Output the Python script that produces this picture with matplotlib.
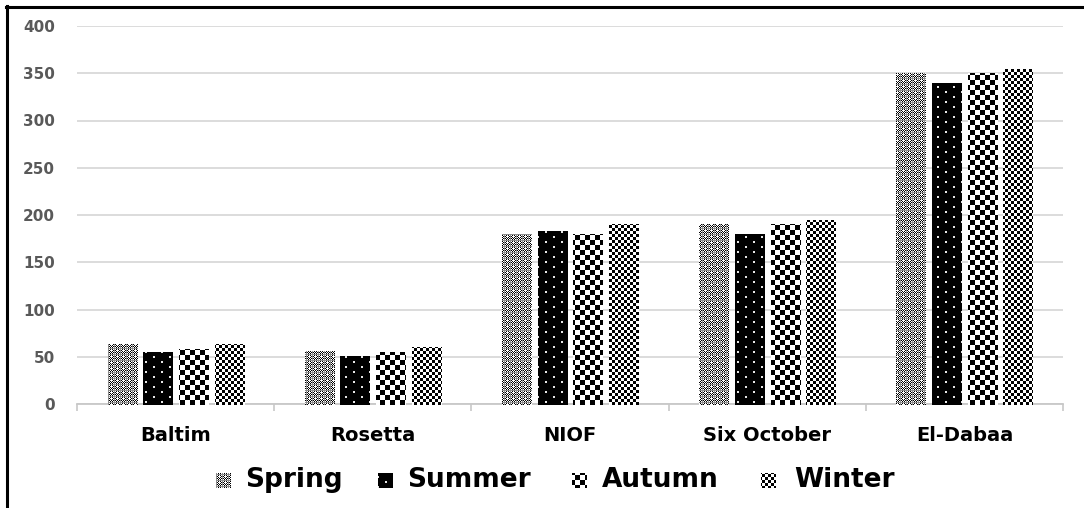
import numpy as np
import matplotlib
matplotlib.use("Agg")
import matplotlib.pyplot as plt
from matplotlib.patches import Rectangle
from matplotlib.lines import Line2D

# ---- data ----
sites = ["Baltim", "Rosetta", "NIOF", "Six October", "El-Dabaa"]
seasons = ["Spring", "Summer", "Autumn", "Winter"]
spring = [64, 56, 180, 190, 350]
summer = [55, 51, 183, 180, 340]
autumn = [58, 55, 180, 190, 350]
winter = [64, 60, 190, 195, 355]
y_ticks = [0, 50, 100, 150, 200, 250, 300, 350, 400]

series = [spring, summer, autumn, winter]

# ---- figure ----
W, H, DPI = 1084, 508, 100
fig = plt.figure(figsize=(W / DPI, H / DPI), dpi=DPI)
ax = fig.add_axes([77 / W, 104 / H, 986 / W, 378 / H])


# ---- monochrome fill textures (pixel tiles, 0 = black, 1 = white) ----
def tile_spring():
    t = np.zeros((6, 6))
    yy, xx = np.mgrid[0:6, 0:6]
    t[(yy + xx) % 2 == 0] = 1.0
    t[0, :] = 0.55
    t[:, 0] = 0.55
    t[3, 3] = 1.0
    t[2, 3] = 1.0
    return t


def tile_summer():
    t = np.zeros((10, 16))
    t[1:3, 1:3] = 0.9
    t[6:8, 9:11] = 0.9
    return t


def tile_checker(n):
    yy, xx = np.mgrid[0:2 * n, 0:2 * n]
    return (((yy // n) + (xx // n)) % 2).astype(float)


tiles = [tile_spring(), tile_summer(), tile_checker(5), tile_checker(3)]


def texture(tile):
    th, tw = tile.shape
    full = np.tile(tile, (H // th + 2, W // tw + 2))[:H, :W]
    g = (full * 255).astype(np.uint8)
    a = np.full_like(g, 255)
    return np.dstack([g, g, g, a])


textures = [texture(t) for t in tiles]


def fill_with(patch, tex):
    im = fig.figimage(tex, xo=0, yo=0, origin="upper", zorder=3)
    im.set_clip_path(patch)


# ---- bars ----
x = np.arange(len(sites))
step = 0.181
bw = 0.147
for k, vals in enumerate(series):
    bars = ax.bar(x + (k - 1.5) * step, vals, width=bw,
                  facecolor="none", edgecolor="none", label=seasons[k])
    for b in bars:
        fill_with(b, textures[k])

# ---- axes styling ----
ax.set_xlim(-0.5, len(sites) - 0.5)
ax.set_ylim(0, 400)
ax.set_yticks(y_ticks)
ax.set_yticklabels([str(v) for v in y_ticks])
ax.yaxis.grid(True, color="#d9d9d9", linewidth=1.3)
ax.set_axisbelow(True)
for s in ["top", "right", "left"]:
    ax.spines[s].set_visible(False)
ax.spines["bottom"].set_color("#c8c8c8")
ax.spines["bottom"].set_linewidth(1.3)

ax.set_xticks(x)
ax.set_xticklabels(sites, fontsize=14, fontweight="bold", family="DejaVu Sans")
ax.set_xticks(np.arange(-0.5, len(sites), 1.0), minor=True)
ax.tick_params(axis="x", which="major", length=0, pad=16)
ax.tick_params(axis="x", which="minor", length=5, width=1.2, color="#c8c8c8")
ax.tick_params(axis="y", length=0, pad=16, labelsize=11, labelcolor="#595959")
for lab in ax.get_yticklabels():
    lab.set_fontweight("bold")

# ---- legend row ----
legend_sq_x = [216, 378, 572, 761]
legend_txt_x = [245, 407, 602, 794]
leg_y = 480
sq = 14
for k, name in enumerate(seasons):
    r = Rectangle((legend_sq_x[k] / W, (H - leg_y - sq / 2) / H), sq / W, sq / H,
                  transform=fig.transFigure, facecolor="none", edgecolor="none")
    fig.add_artist(r)
    fill_with(r, textures[k])
    fig.text(legend_txt_x[k] / W, (H - leg_y) / H, name, ha="left", va="center",
             fontsize=19, fontweight="bold", family="DejaVu Sans")

# ---- outer frame (top and left edges) ----
fig.add_artist(Line2D([6 / W, 1.0], [1 - 7 / H, 1 - 7 / H], transform=fig.transFigure,
                      color="black", linewidth=2.2))
fig.add_artist(Line2D([7 / W, 7 / W], [0.0, 1 - 6 / H], transform=fig.transFigure,
                      color="black", linewidth=2.2))

fig.savefig("out.png", dpi=DPI)
